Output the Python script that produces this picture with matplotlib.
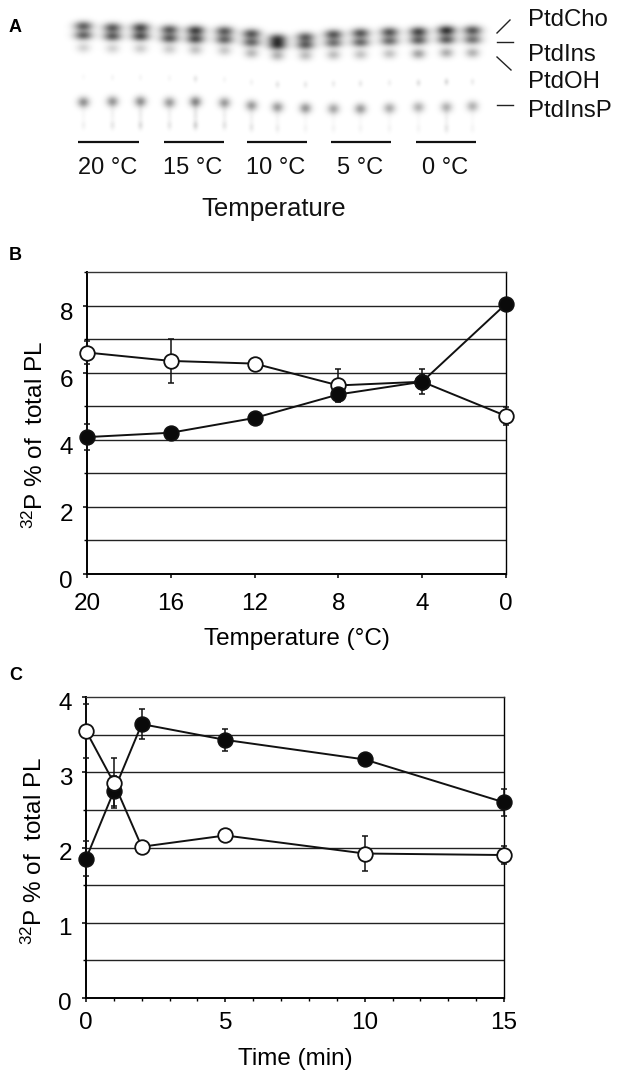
import numpy as np
import matplotlib
matplotlib.use("Agg")
import matplotlib.pyplot as plt
from matplotlib.transforms import ScaledTranslation

plt.rcParams['font.family'] = ['Liberation Sans', 'DejaVu Sans']
plt.rcParams['mathtext.fontset'] = 'custom'
plt.rcParams['mathtext.rm'] = 'Liberation Sans'
plt.rcParams['mathtext.default'] = 'regular'

W, H = 624, 1079

lane_x = [83, 112, 140, 169, 195, 224, 251, 277, 305, 333, 360, 389, 418, 446, 472]
cho_y = [25.7, 27.3, 27.3, 29.3, 30, 30.7, 33.3, 38.3, 36.7, 34, 32.7, 31.7, 31.3, 30, 30]
ins_y = [35, 36, 36, 38, 38.7, 39.3, 42, 45, 44.7, 42.7, 42, 40.7, 40, 39.3, 39.3]
oh_y = [47.3, 48, 48, 48.7, 49.3, 50, 52.7, 55, 55, 54.3, 54, 53.3, 53.3, 52.3, 52.3]
insp_y = [101.7, 101, 101, 102, 101.3, 102.3, 105, 106.7, 107.7, 108.3, 108.3, 107.7, 106.7, 106.7, 105.7]
faint_y = [125, 125, 125, 125, 125, 125, 127, 128, 128, 128, 128, 128, 128, 128, 128]
cho_i = [.58, .60, .66, .60, .70, .60, .62, .66, .58, .62, .62, .62, .68, .76, .62]
ins_i = [.56, .58, .62, .58, .62, .54, .54, .64, .56, .50, .54, .52, .56, .58, .50]
oh_i = [.16, .16, .18, .18, .22, .20, .26, .28, .24, .24, .22, .22, .34, .30, .28]
insp_i = [.40, .38, .40, .36, .44, .36, .36, .36, .38, .32, .36, .30, .28, .28, .28]
faint_i = [.04, .07, .10, .07, .13, .08, .07, .05, .03, .03, .03, .03, .03, .07, .03]
oh2_i = [.02, .03, .03, .03, .08, .03, .04, .08, .07, .06, .07, .05, .10, .12, .06]

bar_ranges = [(78, 139), (164, 224), (247, 307), (331, 391), (416, 476)]
temp_labels = ['20 °C', '15 °C', '10 °C', '5 °C', '0 °C']
lipid_names = ['PtdCho', 'PtdIns', 'PtdOH', 'PtdInsP']
lipid_y = [20, 55, 82, 111]

# panel B
temp = [20, 16, 12, 8, 4, 0]
b_open = [6.6, 6.35, 6.27, 5.62, 5.73, 4.71]
b_open_err = [0.33, 0.66, 0, 0.5, 0.37, 0.28]
b_closed = [4.08, 4.21, 4.65, 5.35, 5.73, 8.05]
b_closed_err = [0.38, 0, 0, 0.2, 0.2, 0]

# panel C
minutes = [0, 1, 2, 5, 10, 15]
c_open = [3.55, 2.86, 2.01, 2.16, 1.92, 1.90]
c_open_err = [0.36, 0.33, 0, 0, 0.23, 0.12]
c_closed = [1.85, 2.75, 3.64, 3.43, 3.17, 2.60]
c_closed_err = [0.23, 0.2, 0.2, 0.15, 0, 0.18]

ylab = r'$^{32}$P % of  total PL'
FS = 17.5


def axes_px(x0, y0, x1, y1):
    return fig.add_axes([x0 / W, 1 - y1 / H, (x1 - x0) / W, (y1 - y0) / H])


def series(ax, x, y, err, face):
    ax.errorbar(x, y, yerr=err, fmt='none', ecolor='#111111', elinewidth=1.1,
                capsize=2, capthick=1.1, clip_on=False, zorder=3)
    ax.plot(x, y, '-', color='#111111', lw=1.4, clip_on=False, zorder=4)
    ax.plot(x, y, 'o', mfc=face, mec='#111111', mew=1.3, ms=10.5, clip_on=False, zorder=5)


def style(ax, ydown):
    ax.grid(False)
    for s in ['left', 'bottom']:
        ax.spines[s].set_linewidth(1.4)
    for s in ['top', 'right']:
        ax.spines[s].set_linewidth(1.0)
    ax.spines['top'].set_color('#333333')
    ax.tick_params(axis='both', which='major', labelsize=FS, length=3, width=1.1)
    ax.tick_params(axis='both', which='minor', length=2, width=1.0)
    ax.tick_params(axis='y', pad=7)
    # y tick labels sit a little below their gridlines in the original
    for t in ax.get_yticklabels():
        t.set_transform(t.get_transform() + ScaledTranslation(0, -ydown / 100, fig.dpi_scale_trans))


fig = plt.figure(figsize=(W / 100, H / 100), dpi=100)

# panel A
ax = axes_px(0, 0, W, 240)
ax.set_xlim(0, W)
ax.set_ylim(240, 0)
ax.axis('off')
xx, yy = np.meshgrid(np.arange(W), np.arange(240))
gel = np.zeros(xx.shape)


def spot(cx, cy, amp, sx, sy):
    return amp * np.exp(-(xx - cx) ** 2 / (2 * sx ** 2) - (yy - cy) ** 2 / (2 * sy ** 2))


for i, cx in enumerate(lane_x):
    gel += spot(cx, cho_y[i], cho_i[i], 6.5, 3.6)
    gel += spot(cx, ins_y[i], ins_i[i], 6.5, 3.4)
    gel += spot(cx, oh_y[i], oh_i[i], 5.0, 3.6)
    gel += spot(cx, insp_y[i], insp_i[i], 4.3, 3.8)
    gel += spot(cx, faint_y[i], faint_i[i], 2.0, 3.0)
    gel += spot(cx, (insp_y[i] + faint_y[i]) / 2, faint_i[i] * 0.6, 2.0, 7)
    gel += spot(cx, oh_y[i] + 29, oh2_i[i], 1.8, 2.4)
ax.imshow(1 - np.clip(gel, 0, 0.88), cmap='gray', vmin=0, vmax=1,
          extent=(0, W, 240, 0), aspect='auto', interpolation='bilinear')

for (a, b), lab in zip(bar_ranges, temp_labels):
    ax.plot([a, b], [142, 142], color='#111111', lw=1.6, solid_capstyle='butt')
    ax.text((a + b) / 2 - 1, 168, lab, ha='center', va='center', fontsize=17, color='#111111')
ax.text(274, 209, 'Temperature', ha='center', va='center', fontsize=18.5, color='#111111')
for name, y in zip(lipid_names, lipid_y):
    ax.text(528, y, name, ha='left', va='center', fontsize=17.3, color='#111111')
ax.plot([497, 510], [33, 20], color='#222222', lw=1)
ax.plot([497, 513], [42, 42], color='#222222', lw=1)
ax.plot([497, 511], [57, 70], color='#222222', lw=1)
ax.plot([497, 513], [105, 105], color='#222222', lw=1)

fig.text(9 / W, 1 - 27 / H, 'A', fontsize=13, fontweight='bold', va='center')
fig.text(9 / W, 1 - 256 / H, 'B', fontsize=13, fontweight='bold', va='center')
fig.text(9 / W, 1 - 676 / H, 'C', fontsize=13, fontweight='bold', va='center')

# panel B
ax = axes_px(87, 272, 506, 574)
ax.set_xlim(20, 0)
ax.set_ylim(0, 9)
for g in range(1, 9):
    ax.axhline(g, color='#222222', lw=1.0, zorder=1)
series(ax, temp, b_open, b_open_err, 'white')
series(ax, temp, b_closed, b_closed_err, '#0a0a0a')
ax.set_xticks(temp)
ax.set_yticks([0, 2, 4, 6, 8])
ax.set_yticks(range(0, 10), minor=True)
style(ax, 6)
ax.tick_params(axis='x', pad=11)
ax.set_xlabel('Temperature (°C)', fontsize=FS, labelpad=9)
ax.set_ylabel(ylab, fontsize=FS, labelpad=8)
ax.yaxis.label.set_y(0.46)

# panel C
ax = axes_px(86, 697, 504, 998)
ax.set_xlim(0, 15)
ax.set_ylim(0, 4)
for g in np.arange(0.5, 4, 0.5):
    ax.axhline(g, color='#222222', lw=1.0, zorder=1)
series(ax, minutes, c_closed, c_closed_err, '#0a0a0a')
series(ax, minutes, c_open, c_open_err, 'white')
ax.set_xticks([0, 5, 10, 15])
ax.set_xticks(range(16), minor=True)
ax.set_yticks([0, 1, 2, 3, 4])
ax.set_yticks(np.arange(0, 4.5, 0.5), minor=True)
style(ax, 4)
ax.tick_params(axis='x', pad=7)
ax.set_xlabel('Time (min)', fontsize=FS, labelpad=10)
ax.set_ylabel(ylab, fontsize=FS, labelpad=8)
ax.yaxis.label.set_y(0.49)

fig.savefig('out.png', dpi=100)
